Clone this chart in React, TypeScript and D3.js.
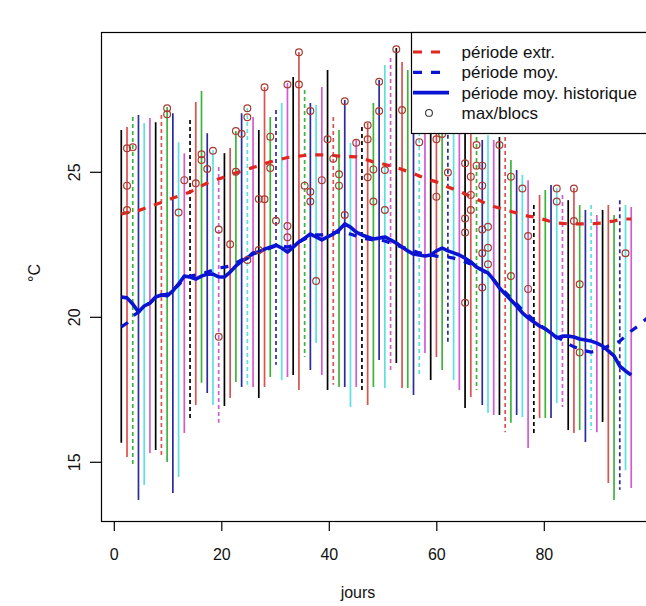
import React from "react";
import * as d3 from "d3";

// ---- data ----
const segMax = [26.46,26.56,26.91,26.98,26.70,26.87,26.73,26.98,27.25,27.04,
 26.04,25.66,26.80,27.42,27.80,26.35,25.77,25.18,25.66,25.84,
 26.42,27.04,27.22,26.91,26.46,27.94,26.91,27.15,27.39,28.08,
 28.29,29.15,27.84,27.39,27.32,27.94,28.53,26.91,26.46,27.49,
 26.01,26.11,26.56,26.70,27.39,28.18,28.70,28.94,29.29,28.80,
 28.53,28.20,27.60,28.00,27.40,27.80,27.10,27.50,26.90,27.20,
 26.80,26.63,26.46,26.11,26.28,26.11,26.22,26.22,25.42,25.08,
 24.91,24.73,23.87,24.22,24.39,24.56,24.46,24.22,24.04,24.46,
 23.87,23.70,23.87,23.53,23.70,23.87,23.53,24.04,23.87,23.80];

const segMin = [15.67,15.18,14.91,13.70,14.22,15.32,15.42,15.15,15.01,13.94,
 14.49,16.01,16.46,16.98,17.74,17.39,16.98,16.36,16.94,17.22,
 17.77,17.60,17.67,17.60,17.22,17.60,17.94,18.36,17.84,17.94,
 18.01,17.49,18.63,18.18,19.11,18.01,17.49,17.67,17.60,17.60,
 16.91,17.60,17.49,16.98,17.60,18.53,17.56,18.18,18.42,17.56,
 17.56,17.32,18.01,18.77,17.84,18.63,18.18,19.11,17.84,17.49,
 16.87,17.25,17.49,16.98,16.70,16.63,16.63,16.04,16.36,16.63,
 16.56,15.49,16.01,16.53,16.53,16.53,17.04,16.91,16.11,16.01,
 16.11,15.70,16.11,16.04,16.39,14.29,13.70,14.05,14.73,14.11];

const histMean = [20.70,20.67,20.46,20.18,20.39,20.49,20.70,20.77,20.74,20.91,
 21.15,21.42,21.39,21.32,21.42,21.49,21.49,21.39,21.39,21.56,
 21.77,21.94,22.04,22.22,22.25,22.35,22.42,22.49,22.39,22.25,
 22.42,22.60,22.73,22.87,22.77,22.67,22.77,22.87,23.01,23.22,
 23.11,22.94,22.84,22.77,22.70,22.73,22.77,22.67,22.56,22.42,
 22.29,22.18,22.15,22.11,22.15,22.29,22.39,22.29,22.22,22.15,
 22.04,21.91,21.73,21.63,21.53,21.29,21.01,20.80,20.60,20.39,
 20.15,19.98,19.84,19.70,19.60,19.46,19.29,19.35,19.35,19.32,
 19.25,19.22,19.18,19.11,19.01,18.84,18.67,18.32,18.15,18.01];

const periodMean = [19.67,19.80,20.04,20.18,20.39,20.49,20.67,20.77,20.80,20.94,
 21.11,21.35,21.42,21.46,21.49,21.56,21.63,21.70,21.73,21.77,
 21.87,21.98,22.08,22.18,22.25,22.32,22.39,22.46,22.46,22.42,
 22.49,22.60,22.70,22.80,22.84,22.84,22.87,22.91,22.94,22.91,
 22.87,22.80,22.73,22.70,22.67,22.67,22.63,22.56,22.49,22.42,
 22.35,22.29,22.22,22.18,22.15,22.11,22.08,22.08,22.04,21.98,
 21.91,21.84,21.73,21.63,21.49,21.29,21.04,20.87,20.67,20.46,
 20.25,20.08,19.91,19.73,19.60,19.46,19.32,19.22,19.08,18.98,
 18.91,18.84,18.80,18.84,18.91,19.01,19.08,19.18,19.35,19.53,
 19.67,19.84,20.01];

const periodExtr = [23.56,23.61,23.65,23.68,23.75,23.82,23.89,23.96,24.03,24.11,
 24.18,24.25,24.32,24.42,24.53,24.63,24.70,24.77,24.84,24.91,
 24.98,25.04,25.10,25.17,25.22,25.29,25.36,25.41,25.46,25.51,
 25.54,25.56,25.58,25.60,25.60,25.60,25.58,25.58,25.56,25.54,
 25.54,25.53,25.48,25.42,25.36,25.32,25.27,25.22,25.17,25.10,
 25.03,24.96,24.87,24.80,24.73,24.67,24.60,24.49,24.42,24.35,
 24.25,24.17,24.08,23.98,23.89,23.82,23.77,23.70,23.65,23.60,
 23.53,23.49,23.46,23.41,23.36,23.29,23.25,23.24,23.22,23.22,
 23.22,23.22,23.22,23.24,23.25,23.29,23.32,23.37,23.39,23.39];

const circleIdx = [1,1,1,2,8,8,10,11,13,14,14,15,16,17,17,19,20,20,21,22,22,22,24,24,25,25,26,26,27,29,29,29,
 31,31,32,33,33,33,34,35,36,37,38,38,39,39,41,43,43,43,44,44,45,45,46,46,48,49,52,55,55,56,57,
 60,60,60,60,61,61,61,62,62,63,63,63,63,63,64,64,64,66,68,68,70,71,71,76,76,79,79,80,80,88];
const circleVal = [25.83,24.54,23.70,25.86,27.21,27.00,23.61,24.73,24.62,25.62,25.42,25.11,25.74,23.03,19.33,22.52,26.42,25.02,26.33,27.21,26.90,21.98,24.08,22.32,27.93,24.07,26.23,25.15,23.33,28.03,23.15,22.76,
 29.14,28.03,24.54,27.11,24.33,23.99,21.25,24.73,26.14,25.47,24.93,24.54,27.45,23.53,26.02,26.62,26.14,24.83,25.10,23.99,28.12,27.11,25.08,23.70,29.24,27.15,26.04,26.14,24.16,26.32,24.99,
 25.31,23.41,22.92,20.50,24.85,24.22,23.70,25.94,25.23,25.23,24.54,23.03,22.21,21.03,23.12,22.40,21.83,25.94,24.85,21.42,24.44,22.80,20.98,24.44,23.99,24.44,23.32,21.14,18.79,22.21];

const xTicks = [0, 20, 40, 60, 80];
const yTicks = [15, 20, 25];
const legendLabels = ["période extr.", "période moy.", "période moy. historique", "max/blocs"];
const segColors = ["#000000", "#d9534f", "#3cb43c", "#2b2b9a", "#5ee0e0", "#d05cd0"];

// first segment day and spacing between segments (in axis units)
const firstDay = 1.3;
const dayStep = 1.066;

const FONT = "'Liberation Sans', Arial, sans-serif";

export default function App() {
  const W = 646, H = 606;
  const left = 101, top = 32, right = 673, bottom = 521;
  const x = d3.scaleLinear().domain([0, 80]).range([114.3, 544.3]);
  const y = d3.scaleLinear().domain([15, 25]).range([462.3, 172.3]);
  const dx = (i: number) => x(firstDay + dayStep * i);

  const line = d3.line<number>().x((_, i) => dx(i)).y((v) => y(v));

  const red = "#e0261e";
  const blue = "#0a14d2";
  const circ = "#a83c32";

  const legY = (k: number) => 52 + 20.3 * k;

  return (
    <svg width={W} height={H} style={{ position: "absolute", left: 0, top: 0, background: "#fff" }} fontFamily={FONT}>
      <rect x={0} y={0} width={W} height={H} fill="#fff" />
      <defs>
        <clipPath id="plotclip">
          <rect x={left} y={top} width={right - left} height={bottom - top} />
        </clipPath>
      </defs>
      <g clipPath="url(#plotclip)">
        {segMax.map((mx, i) => (
          <line key={"s" + i} x1={dx(i)} x2={dx(i)} y1={y(mx)} y2={y(segMin[i])}
            stroke={segColors[i % 6]} strokeWidth={1.7}
            strokeDasharray={i % 5 === 2 ? "4,3" : undefined} />
        ))}
        <path d={line(periodExtr) || ""} fill="none" stroke={red} strokeWidth={3.2} strokeDasharray="8,9" />
        <path d={line(periodMean) || ""} fill="none" stroke={blue} strokeWidth={3.2} strokeDasharray="8,9" />
        <path d={line(histMean) || ""} fill="none" stroke={blue} strokeWidth={3.6} strokeLinejoin="round" />
        {circleIdx.map((ci, k) => (
          <circle key={"c" + k} cx={dx(ci)} cy={y(circleVal[k])} r={3.4} fill="none" stroke={circ} strokeWidth={1.2} />
        ))}
      </g>
      <rect x={left + 0.5} y={top + 0.5} width={right - left} height={bottom - top} fill="none" stroke="#000" strokeWidth={1.2} />
      {/* x axis */}
      {xTicks.map((t) => (
        <g key={"xt" + t}>
          <line x1={x(t)} x2={x(t)} y1={bottom} y2={bottom + 10} stroke="#000" strokeWidth={1.2} />
          <text x={x(t)} y={560} fontSize={16} textAnchor="middle" fill="#111">{t}</text>
        </g>
      ))}
      <text x={358} y={598} fontSize={16} textAnchor="middle" fill="#111">jours</text>
      {/* y axis */}
      {yTicks.map((t) => (
        <g key={"yt" + t}>
          <line x1={left - 11} x2={left} y1={y(t)} y2={y(t)} stroke="#000" strokeWidth={1.2} />
          <text transform={`translate(80,${y(t)}) rotate(-90)`} fontSize={16} textAnchor="middle" fill="#111">{t}</text>
        </g>
      ))}
      <text transform={`translate(40,273) rotate(-90)`} fontSize={16} textAnchor="middle" fill="#111">°C</text>
      {/* legend */}
      <rect x={411.5} y={top + 0.5} width={300} height={101} fill="#fff" stroke="#000" strokeWidth={1.2} />
      <line x1={413} x2={449} y1={legY(0)} y2={legY(0)} stroke={red} strokeWidth={3.2} strokeDasharray="9,9" />
      <line x1={413} x2={449} y1={legY(1)} y2={legY(1)} stroke={blue} strokeWidth={3.2} strokeDasharray="9,9" />
      <line x1={413} x2={449} y1={legY(2)} y2={legY(2)} stroke={blue} strokeWidth={3.6} />
      <circle cx={429} cy={legY(3)} r={3.4} fill="none" stroke="#333" strokeWidth={1.1} />
      {legendLabels.map((l, k) => (
        <text key={"l" + k} x={461.5} y={legY(k)} dy="0.35em" fontSize={17} fill="#111">{l}</text>
      ))}
    </svg>
  );
}
